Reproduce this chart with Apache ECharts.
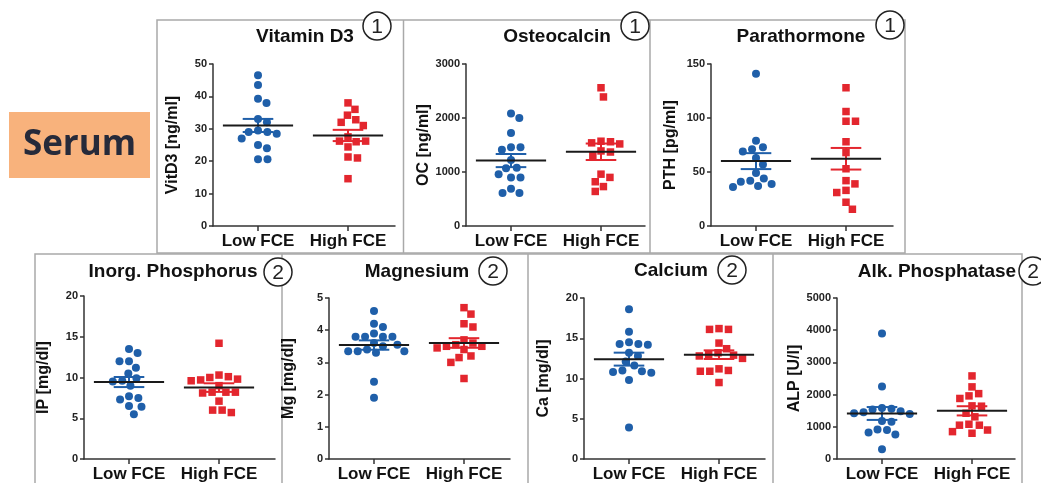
<!DOCTYPE html>
<html>
<head>
<meta charset="utf-8">
<script src="https://cdn.jsdelivr.net/npm/echarts@6/dist/echarts.min.js"></script>
<style>
  html, body { margin: 0; padding: 0; background: #fff; }
  #chart { width: 1041px; height: 483px; }
</style>
</head>
<body>
<div id="chart"></div>
<script>
// groups on the x axis
const categories = ['Low FCE', 'High FCE']

// serum values
const vitD3Low = [46.5, 43.5, 39.3, 38, 33, 32, 29.5, 29, 29, 28.5, 27, 25, 24, 20.6, 20.6]
const vitD3High = [38, 36, 34.2, 32.8, 32, 31, 27.5, 26, 26.2, 26.2, 24.4, 21.3, 21, 14.6]
const ocLow = [2085, 2000, 1720, 1460, 1460, 1410, 1220, 1080, 1070, 960, 900, 900, 690, 610, 610]
const ocHigh = [2560, 2390, 1570, 1560, 1540, 1520, 1390, 1370, 1300, 960, 900, 820, 730, 640]
const pthLow = [141, 79, 73, 71, 69, 63, 57, 49, 44, 42, 41, 39, 37, 36]
const pthHigh = [128, 106, 97, 97, 78, 68, 53, 42, 39, 33, 31, 22, 15.5]
const ipLow = [13.5, 13, 12, 12, 11.2, 10.5, 9.9, 9.6, 9.5, 9, 7.7, 7.5, 7.3, 6.5, 6.4, 5.5]
const ipHigh = [14.2, 10.3, 10.1, 10, 9.8, 9.7, 9.6, 9, 8.2, 8.2, 8.2, 8.1, 7.1, 6, 6, 5.7]
const mgLow = [4.6, 4.2, 4.1, 3.9, 3.8, 3.8, 3.8, 3.8, 3.6, 3.55, 3.5, 3.4, 3.35, 3.35, 3.35, 3.3, 2.4, 1.9]
const mgHigh = [4.7, 4.5, 4.2, 4.1, 3.7, 3.6, 3.55, 3.5, 3.5, 3.45, 3.4, 3.2, 3.15, 3, 2.5]
const caLow = [18.6, 15.8, 14.5, 14.3, 14.3, 14.2, 13.2, 12.8, 12.1, 11.6, 11, 10.9, 10.8, 10.7, 9.8, 3.9]
const caHigh = [16.2, 16.1, 16.1, 14.4, 13.7, 13.2, 13, 12.9, 12.8, 12.5, 11.2, 11, 10.9, 10.9, 9.5]
const alpLow = [3900, 2250, 1580, 1560, 1540, 1480, 1450, 1420, 1400, 1180, 1160, 920, 900, 820, 760, 300]
const alpHigh = [2580, 2240, 2030, 1960, 1880, 1650, 1640, 1420, 1310, 1080, 1050, 1050, 900, 850, 800]

// y axis ranges (max, tick step)
const yMaxes = [50, 3000, 150, 20, 5, 20, 5000]
const ySteps = [10, 1000, 50, 5, 1, 5, 1000]

const BLUE = '#1f5fa9'
const RED = '#e3262e'
const X_UNIT = 90 // px between the two groups
const FONT = '"Liberation Sans", Arial, sans-serif'

const panels = [
  { title: 'Vitamin D3', num: '1', name: 'VitD3 [ng/ml]', low: vitD3Low, high: vitD3High, grid: [213, 64, 182, 162], titleAt: [305, 37], numAt: [377, 26] },
  { title: 'Osteocalcin', num: '1', name: 'OC [ng/ml]', low: ocLow, high: ocHigh, grid: [466, 64, 179, 162], titleAt: [557, 37], numAt: [635, 26] },
  { title: 'Parathormone', num: '1', name: 'PTH [pg/ml]', low: pthLow, high: pthHigh, grid: [711, 64, 182, 162], titleAt: [801, 37], numAt: [890, 25] },
  { title: 'Inorg. Phosphorus', num: '2', name: 'IP [mg/dl]', low: ipLow, high: ipHigh, grid: [84, 296, 191, 163], titleAt: [173, 272], numAt: [278, 272] },
  { title: 'Magnesium', num: '2', name: 'Mg [mg/dl]', low: mgLow, high: mgHigh, grid: [329, 298, 181, 162], titleAt: [417, 272], numAt: [493, 271] },
  { title: 'Calcium', num: '2', name: 'Ca [mg/dl]', low: caLow, high: caHigh, grid: [584, 298, 181, 162], titleAt: [671, 271], numAt: [732, 270] },
  { title: 'Alk. Phosphatase', num: '2', name: 'ALP [U/l]', low: alpLow, high: alpHigh, grid: [837, 298, 178, 161], titleAt: [937, 272], numAt: [1033, 271] }
]

function mean(arr) {
  return arr.reduce((a, b) => a + b, 0) / arr.length
}
function sem(arr) {
  const m = mean(arr)
  const v = arr.reduce((a, b) => a + (b - m) * (b - m), 0) / (arr.length - 1)
  return Math.sqrt(v / arr.length)
}

// simple beeswarm: horizontal px offset for every point so dots don't overlap
function swarm(values, pxPerUnit) {
  const D = 9.5
  const placed = []
  return values.map(v => {
    const y = v * pxPerUnit
    const near = placed.filter(p => Math.abs(p.y - y) < D)
    const cands = [0]
    near.forEach(p => {
      const dx = Math.sqrt(D * D - (p.y - y) * (p.y - y))
      cands.push(p.x + dx, p.x - dx)
    })
    cands.sort((a, b) => Math.abs(a) - Math.abs(b))
    const x = cands.find(cx => near.every(p => (p.x - cx) * (p.x - cx) + (p.y - y) * (p.y - y) >= D * D - 0.01))
    placed.push({ x: x, y: y })
    return x
  })
}

function points(values, group, pxPerUnit) {
  const offs = swarm(values, pxPerUnit)
  return values.map((v, i) => [group + offs[i] / X_UNIT, v])
}

// mean line (black) with SEM bars (group colour)
function renderStats(params, api) {
  const x = api.value(0)
  const m = api.value(1)
  const s = api.value(2)
  const color = x === 1 ? BLUE : RED
  const top = api.coord([x, m + s])
  const bot = api.coord([x, m - s])
  const mid = api.coord([x, m])
  const capL = api.coord([x - 0.17, m])[0]
  const capR = api.coord([x + 0.17, m])[0]
  const lineL = api.coord([x - 0.39, m])[0]
  const lineR = api.coord([x + 0.39, m])[0]
  const st = { stroke: color, lineWidth: 2 }
  return {
    type: 'group',
    children: [
      { type: 'line', shape: { x1: mid[0], y1: top[1], x2: mid[0], y2: bot[1] }, style: st },
      { type: 'line', shape: { x1: capL, y1: top[1], x2: capR, y2: top[1] }, style: st },
      { type: 'line', shape: { x1: capL, y1: bot[1], x2: capR, y2: bot[1] }, style: st },
      { type: 'line', shape: { x1: lineL, y1: mid[1], x2: lineR, y2: mid[1] }, style: { stroke: '#1a1a1a', lineWidth: 2 } }
    ]
  }
}

const grids = []
const xAxes = []
const yAxes = []
const series = []
const graphics = []

// panel frames
graphics.push(
  { type: 'rect', shape: { x: 157, y: 20, width: 748, height: 233 }, style: { fill: 'none', stroke: '#a9a9a9', lineWidth: 1.5 } },
  { type: 'line', shape: { x1: 403.5, y1: 20, x2: 403.5, y2: 253 }, style: { stroke: '#a9a9a9', lineWidth: 1.5 } },
  { type: 'line', shape: { x1: 650, y1: 20, x2: 650, y2: 253 }, style: { stroke: '#a9a9a9', lineWidth: 1.5 } },
  { type: 'rect', shape: { x: 35, y: 254, width: 987, height: 240 }, style: { fill: 'none', stroke: '#a9a9a9', lineWidth: 1.5 } },
  { type: 'line', shape: { x1: 282, y1: 254, x2: 282, y2: 490 }, style: { stroke: '#a9a9a9', lineWidth: 1.5 } },
  { type: 'line', shape: { x1: 528, y1: 254, x2: 528, y2: 490 }, style: { stroke: '#a9a9a9', lineWidth: 1.5 } },
  { type: 'line', shape: { x1: 773, y1: 254, x2: 773, y2: 490 }, style: { stroke: '#a9a9a9', lineWidth: 1.5 } }
)

panels.forEach((p, i) => {
  const [left, top, width, height] = p.grid
  const pxPerUnit = height / yMaxes[i]
  grids.push({ left: left, top: top, width: width, height: height })
  xAxes.push({
    gridIndex: i,
    type: 'value',
    min: 0.5,
    max: 0.5 + width / X_UNIT,
    splitLine: { show: false },
    axisLine: { show: true, onZero: false, lineStyle: { color: '#333', width: 1.5 } },
    axisTick: { show: true, customValues: [1, 2], length: 5, lineStyle: { color: '#333', width: 1.5 } },
    axisLabel: {
      customValues: [1, 2],
      formatter: v => categories[Math.round(v) - 1],
      margin: 7,
      color: '#111',
      fontFamily: FONT,
      fontWeight: 'bold',
      fontSize: 17
    }
  })
  yAxes.push({
    gridIndex: i,
    type: 'value',
    min: 0,
    max: yMaxes[i],
    interval: ySteps[i],
    name: p.name,
    nameLocation: 'middle',
    nameGap: 32,
    nameTextStyle: { color: '#111', fontFamily: FONT, fontWeight: 'bold', fontSize: 16 },
    splitLine: { show: false },
    axisLine: { show: true, onZero: false, lineStyle: { color: '#333', width: 1.5 } },
    axisTick: { show: true, length: 4, lineStyle: { color: '#333', width: 1.5 } },
    axisLabel: { formatter: v => String(v), margin: 6, color: '#222', fontFamily: FONT, fontWeight: 'bold', fontSize: 11 }
  })
  series.push(
    {
      type: 'scatter',
      xAxisIndex: i,
      yAxisIndex: i,
      symbol: 'circle',
      symbolSize: 8,
      itemStyle: { color: BLUE, opacity: 1 },
      data: points(p.low, 1, pxPerUnit),
      z: 2
    },
    {
      type: 'scatter',
      xAxisIndex: i,
      yAxisIndex: i,
      symbol: 'rect',
      symbolSize: 7.5,
      itemStyle: { color: RED, opacity: 1 },
      data: points(p.high, 2, pxPerUnit),
      z: 2
    },
    {
      type: 'custom',
      xAxisIndex: i,
      yAxisIndex: i,
      renderItem: renderStats,
      data: [[1, mean(p.low), sem(p.low)], [2, mean(p.high), sem(p.high)]],
      z: 5
    }
  )
  // panel title
  graphics.push({
    type: 'text',
    x: p.titleAt[0],
    y: p.titleAt[1],
    style: { text: p.title, font: 'bold 19px ' + FONT, fill: '#111', align: 'center', verticalAlign: 'middle', textAlign: 'center', textVerticalAlign: 'middle' }
  })
  // circled number
  graphics.push({
    type: 'group',
    x: p.numAt[0],
    y: p.numAt[1],
    z: 10,
    children: [
      { type: 'circle', shape: { cx: 0, cy: 0, r: 14 }, style: { fill: '#fff', stroke: '#222', lineWidth: 1.5 } },
      { type: 'text', x: 0, y: 1, style: { text: p.num, font: '21px ' + FONT, fill: '#222', align: 'center', verticalAlign: 'middle', textAlign: 'center', textVerticalAlign: 'middle' } }
    ]
  })
})

// "Serum" tag
graphics.push(
  { type: 'rect', shape: { x: 9, y: 112, width: 141, height: 66 }, style: { fill: '#f8b27c' } },
  { type: 'text', x: 79.5, y: 145, style: { text: 'Serum', font: 'bold 35px "Open Sans", sans-serif', fill: '#262a3a', align: 'center', verticalAlign: 'middle', textAlign: 'center', textVerticalAlign: 'middle' } }
)

const chart = echarts.init(document.getElementById('chart'))
chart.setOption({
  animation: false,
  grid: grids,
  xAxis: xAxes,
  yAxis: yAxes,
  series: series,
  graphic: { elements: graphics }
})
</script>
</body>
</html>
